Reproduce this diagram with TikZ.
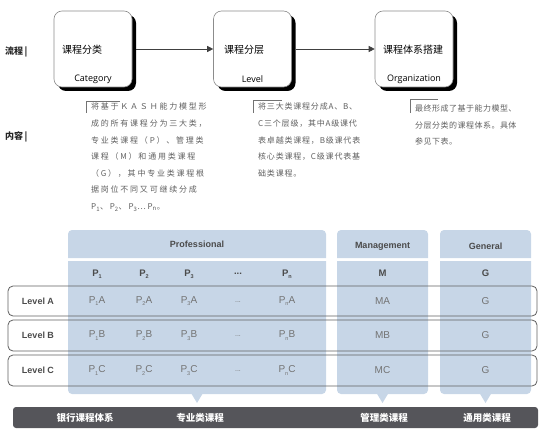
\documentclass[tikz,border=0pt]{standalone}
\usepackage{fontspec}
\setmainfont{Liberation Sans}
\newfontfamily\cjk{Noto Sans CJK SC}
\newfontfamily\cjkA[LetterSpace=22]{Noto Sans CJK SC}
\newfontfamily\cjkB[LetterSpace=10]{Noto Sans CJK SC}
\newfontfamily\cjkC[LetterSpace=6]{Noto Sans CJK SC}
\newfontfamily\latbox{Open Sans}
\usetikzlibrary{shadows,arrows.meta}
\definecolor{cellblue}{RGB}{199,214,231}
\definecolor{desctext}{RGB}{95,95,95}
\definecolor{celltext}{RGB}{115,115,115}
\definecolor{headtext}{RGB}{75,75,75}
\definecolor{barcol}{RGB}{85,85,90}
\definecolor{rowline}{RGB}{95,95,95}
\newcommand{\subi}[1]{\raisebox{-0.45ex}{\fontsize{5.5}{6}\selectfont #1}}
\newcommand{\subd}[1]{\textsubscript{#1}}
\tikzset{
  flowbox/.style={draw=black!45, line width=0.6pt, fill=white, rounded corners=8pt,
    minimum width=78pt, minimum height=76pt, inner sep=0pt,
    general shadow={fill=black, shadow xshift=4pt, shadow yshift=-4pt}},
  flowcn/.style={font=\cjk\fontsize{10}{12}\selectfont, anchor=west, inner sep=0pt},
  flowen/.style={font=\latbox\fontsize{9}{10}\selectfont, inner sep=0pt},
  sidelabel/.style={font=\cjk\bfseries\fontsize{9}{11}\selectfont, text=black!85, anchor=west, inner sep=0pt},
  desc/.style={text=desctext, anchor=north west, inner sep=0pt, align=left},
  bracket/.style={draw=black!55, line width=0.7pt},
  flowarrow/.style={draw=black!75, line width=0.6pt, -{Triangle[length=6pt,width=6pt]}},
  headcell/.style={font=\bfseries\fontsize{9}{10}\selectfont, text=headtext, inner sep=0pt},
  pcell/.style={font=\bfseries\fontsize{9.5}{11}\selectfont, text=headtext, inner sep=0pt},
  cell/.style={font=\fontsize{10}{11}\selectfont, text=celltext, inner sep=0pt},
  levellabel/.style={font=\bfseries\fontsize{9}{10}\selectfont, text=headtext, inner sep=0pt},
  rowbox/.style={draw=rowline, line width=0.8pt, rounded corners=5pt},
  barlabel/.style={font=\cjk\bfseries\fontsize{9.5}{11}\selectfont, text=white, inner sep=0pt},
}
\begin{document}
\begin{tikzpicture}[x=1pt,y=-1pt]
\useasboundingbox (0,0) rectangle (545,430);

% side labels
\node[sidelabel] (lflow) at (5,52) {流程\,|};
\node[sidelabel] (lcont) at (5,137) {内容\,|};

% flow boxes
\node[flowbox] (cat) at (93,49) {};
\node[flowbox] (lvl) at (252.5,49) {};
\node[flowbox] (org) at (414,49) {};
\node[flowcn] (catcn) at (62,50) {课程分类};
\node[flowcn] (lvlcn) at (224,50) {课程分层};
\node[flowcn] (orgcn) at (383,50) {课程体系搭建};
\node[flowen] (caten) at (93,79) {Category};
\node[flowen] (lvlen) at (252.5,79) {Level};
\node[flowen] (orgen) at (414,79) {Organization};
\draw[flowarrow] (cat.east) ++(4,0) coordinate (a1s) -- (lvl.west);
\draw[flowarrow] (lvl.east) ++(4,0) coordinate (a2s) -- (org.west);

% description blocks
\draw[bracket] (86,113) -- (86,101) -- (120,101);
\node[desc, font=\cjkA\fontsize{8}{16.6}\selectfont] (d1) at (91,103) {%
将基于ＫＡＳＨ能力模型形\\
成的所有课程分为三大类，\\
专业类课程（P）、管理类\\
课程（M）和通用类课程\\
（G），其中专业类课程根\\
据岗位不同又可继续分成\\
P\subd{1}、P\subd{2}、P\subd{3}…P\subd{n}。};

\draw[bracket] (253,113) -- (253,100) -- (282,100);
\node[desc, font=\cjkB\fontsize{8}{16.6}\selectfont] (d2) at (258,103) {%
将三大类课程分成A、B、\\
C三个层级，其中A级课代\\
表卓越类课程，B级课代表\\
核心类课程，C级课代表基\\
础类课程。};

\draw[bracket] (410,113) -- (410,99) -- (438,99);
\node[desc, font=\cjkC\fontsize{8}{16.2}\selectfont] (d3) at (415,105) {%
最终形成了基于能力模型、\\
分层分类的课程体系。具体\\
参见下表。};

% blue column areas
\foreach \l/\r/\c in {68/326/197, 337/428/382.5, 440/531/485.5}{
  \fill[cellblue] (\l,258) [rounded corners=4pt] -- (\l,230) -- (\r,230) [sharp corners] -- (\r,258) -- cycle;
  \fill[cellblue] (\l,261) -- (\r,261) [rounded corners=4pt] -- (\r,394) -- (\l,394) [sharp corners] -- cycle;
  \fill[cellblue] (\c-6,393) -- (\c+6,393) -- (\c,403) -- cycle;
}

% headers
\node[headcell] (hprof) at (197,244) {Professional};
\node[headcell] (hman) at (382.5,246) {Management};
\node[headcell] (hgen) at (485.5,246) {General};

\node[pcell] (p1) at (97,274) {P\subi{1}};
\node[pcell] (p2) at (144,274) {P\subi{2}};
\node[pcell] (p3) at (189,274) {P\subi{3}};
\node[pcell] (pd) at (238,274) {...};
\node[pcell] (pn) at (287,274) {P\subi{n}};
\node[pcell] (pm) at (382.5,273) {M};
\node[pcell] (pg) at (485.5,273) {G};

% rows
\draw[rowbox] (8,286) rectangle (537,316);
\draw[rowbox] (8,320) rectangle (537,351);
\draw[rowbox] (8,355) rectangle (537,386);

\foreach \y/\L in {301/A, 335.5/B, 370.5/C}{
  \node[levellabel] (lev\L) at (38,\y) {Level \L};
  \node[cell] (c1\L) at (97,\y) {P\subi{1}\L};
  \node[cell] (c2\L) at (144,\y) {P\subi{2}\L};
  \node[cell] (c3\L) at (189,\y) {P\subi{3}\L};
  \node[cell, font=\fontsize{7}{8}\selectfont] (cd\L) at (238,\y+1) {...};
  \node[cell] (cn\L) at (287,\y) {P\subi{n}\L};
  \node[cell] (cm\L) at (382.5,\y) {M\L};
  \node[cell] (cg\L) at (485.5,\y) {G};
}

% bottom bar
\fill[barcol, rounded corners=3pt] (13,407) rectangle (538,428);
\node[barlabel] (b1) at (85,417.5) {银行课程体系};
\node[barlabel] (b2) at (200,417.5) {专业类课程};
\node[barlabel] (b3) at (384,417.5) {管理类课程};
\node[barlabel] (b4) at (487,417.5) {通用类课程};
\end{tikzpicture}
\end{document}
